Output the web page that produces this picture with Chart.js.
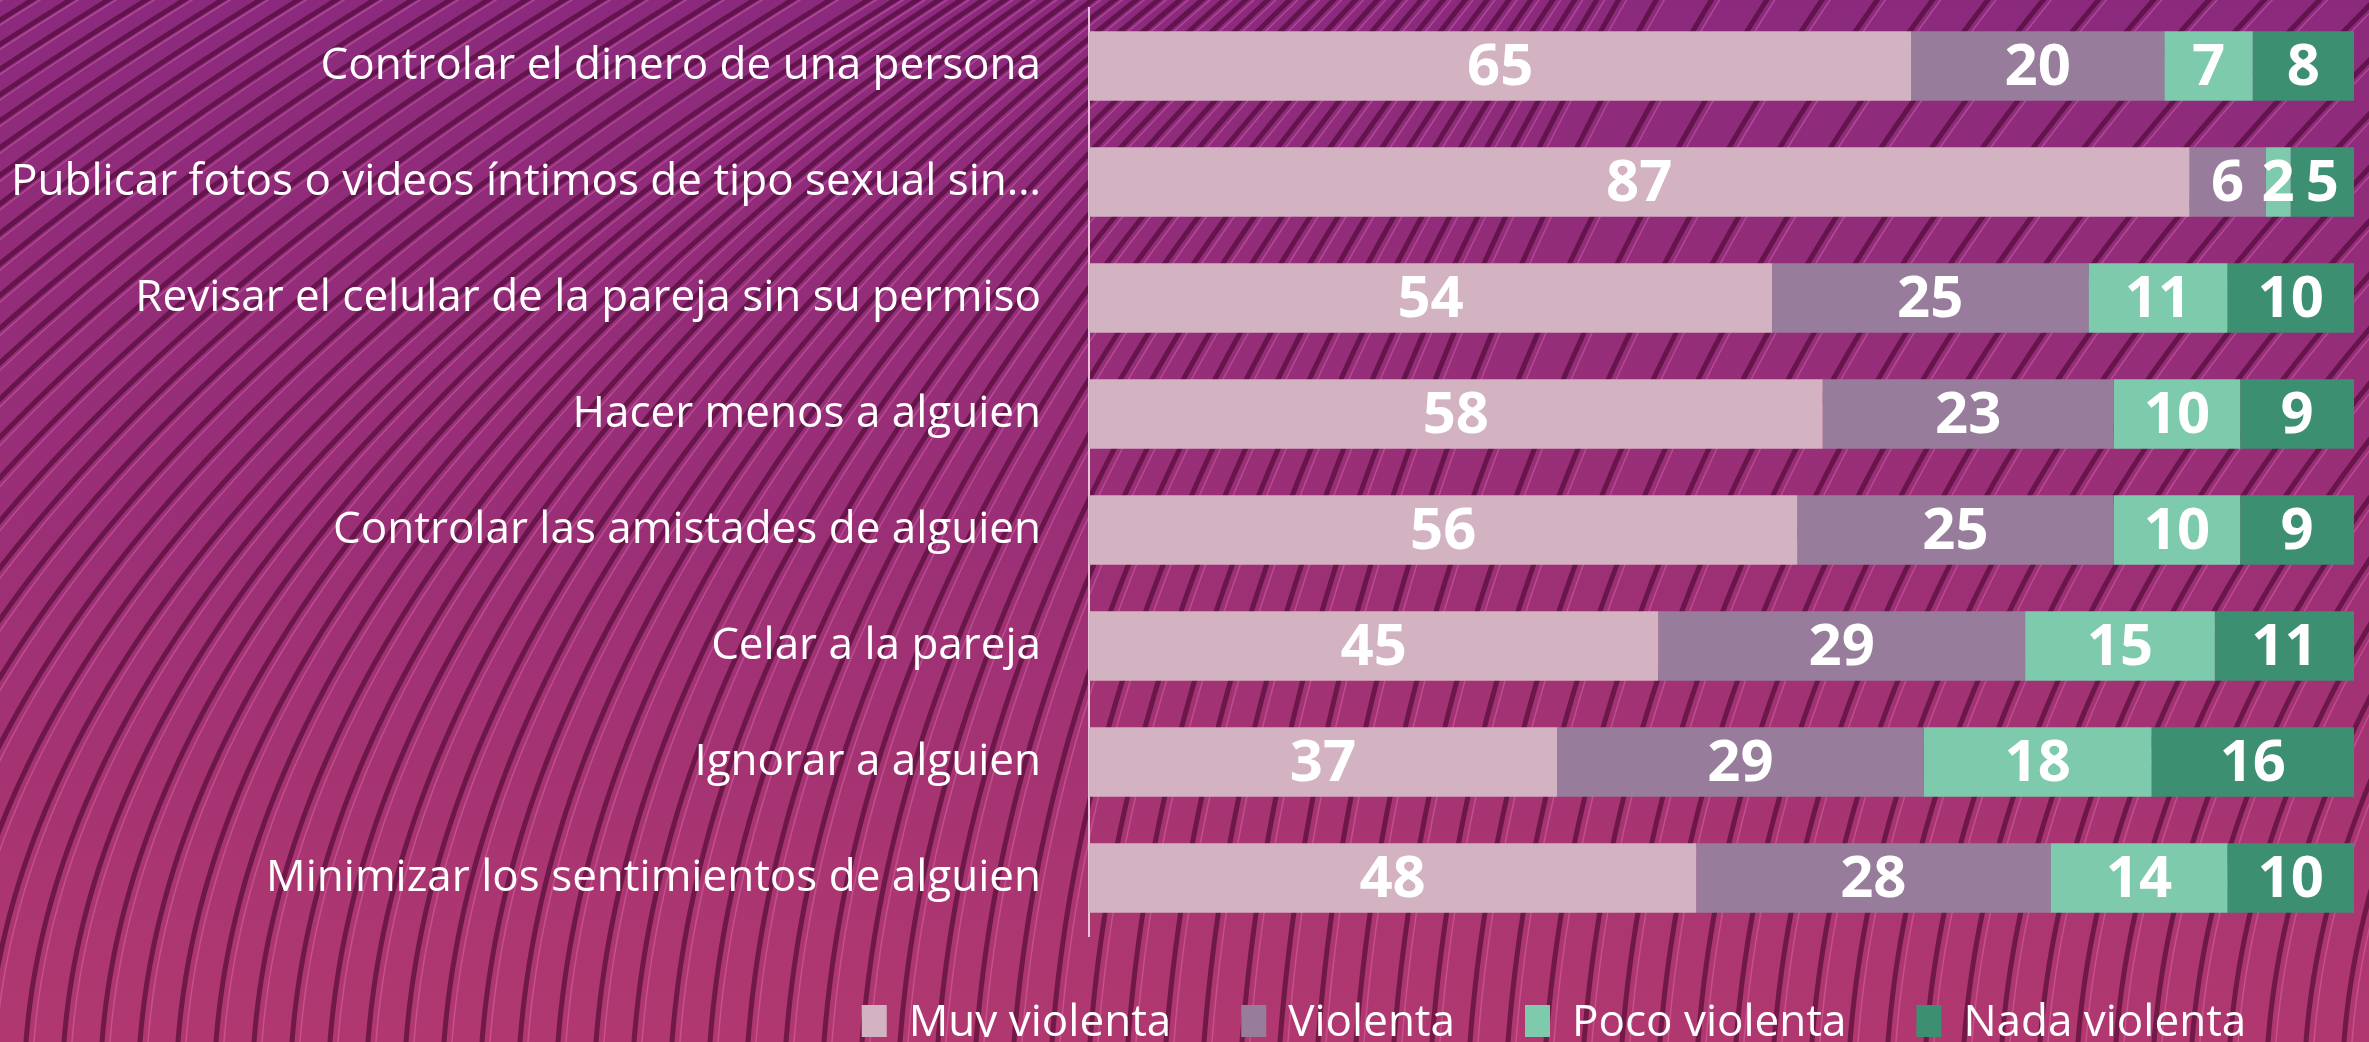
<!DOCTYPE html>
<html>
<head>
<meta charset="utf-8">
<script src="https://cdn.jsdelivr.net/npm/chart.js@4/dist/chart.umd.min.js"></script>
<style>
  html, body { margin: 0; padding: 0; background: #9a3076; }
  canvas { display: block; }
</style>
</head>
<body>
<canvas id="chart" width="2369" height="1042"></canvas>
<script>
const categories = [
  'Controlar el dinero de una persona',
  'Publicar fotos o videos íntimos de tipo sexual sin…',
  'Revisar el celular de la pareja sin su permiso',
  'Hacer menos a alguien',
  'Controlar las amistades de alguien',
  'Celar a la pareja',
  'Ignorar a alguien',
  'Minimizar los sentimientos de alguien'
];
const seriesNames = ['Muy violenta', 'Violenta', 'Poco violenta', 'Nada violenta'];
const muyViolenta = [65, 87, 54, 58, 56, 45, 37, 48];
const violenta = [20, 6, 25, 23, 25, 29, 29, 28];
const pocoViolenta = [7, 2, 11, 10, 10, 15, 18, 14];
const nadaViolenta = [8, 5, 10, 9, 9, 11, 16, 10];
const colors = ['#d3b3c2', '#977d9b', '#7ecaad', '#3d8f72'];

// wavy striped background, drawn behind everything
const backgroundPlugin = {
  id: 'background',
  beforeDraw(chart) {
    const { ctx, width, height } = chart;
    ctx.save();
    const grad = ctx.createLinearGradient(0, 0, 0, height);
    grad.addColorStop(0, '#8b2a7d');
    grad.addColorStop(0.5, '#9a2f76');
    grad.addColorStop(1, '#b1386f');
    ctx.fillStyle = grad;
    ctx.fillRect(0, 0, width, height);

    const curve = (s) => {
      // curvature depends on where the stripe starts
      let k;
      if (s < 0) k = 800;
      else if (s < 1300) k = 800 - (s / 1300) * 550;
      else k = 250 + Math.min(1, (s - 1300) / 1100) * 500;
      ctx.beginPath();
      for (let y = height + 20; y >= -20; y -= 12) {
        const u = (height - y) / height;
        const x = s + k * u * u + 80 * u;
        if (y === height + 20) ctx.moveTo(x, y); else ctx.lineTo(x, y);
      }
      ctx.stroke();
    };
    for (let s = -1000; s < 2500; s += 38) {
      ctx.strokeStyle = 'rgba(255, 140, 210, 0.3)';
      ctx.lineWidth = 1.5;
      ctx.save(); ctx.translate(8, 0); curve(s); ctx.restore();
      ctx.strokeStyle = 'rgba(70, 5, 45, 0.6)';
      ctx.lineWidth = 5;
      curve(s);
    }
    ctx.restore();
  }
};

// white numbers inside each bar segment
const valueLabels = {
  id: 'valueLabels',
  afterDatasetsDraw(chart) {
    const { ctx } = chart;
    ctx.save();
    ctx.fillStyle = '#ffffff';
    ctx.font = 'bold 58px "Open Sans", sans-serif';
    ctx.textAlign = 'center';
    ctx.textBaseline = 'middle';
    chart.data.datasets.forEach((ds, i) => {
      const meta = chart.getDatasetMeta(i);
      meta.data.forEach((bar, j) => {
        ctx.fillText(String(ds.data[j]), (bar.x + bar.base) / 2, bar.y + 2);
      });
    });
    ctx.restore();
  }
};

// legend sits centred between x=754 and the right edge of the bars, a bit higher
const legendShift = {
  id: 'legendShift',
  afterLayout(chart) {
    const lg = chart.legend;
    if (!lg) return;
    lg.left = 754;
    lg.right = chart.chartArea.right;
    lg.width = lg.right - lg.left;
    lg.top -= 5;
    lg.bottom -= 5;
  }
};

const ctx = document.getElementById('chart').getContext('2d');
const seriesData = [muyViolenta, violenta, pocoViolenta, nadaViolenta];

new Chart(ctx, {
  type: 'bar',
  data: {
    labels: categories,
    datasets: seriesNames.map((name, i) => ({
      label: name,
      data: seriesData[i],
      backgroundColor: colors[i],
      borderWidth: 0,
      categoryPercentage: 1,
      barPercentage: 0.6
    }))
  },
  options: {
    indexAxis: 'y',
    responsive: false,
    animation: false,
    layout: { padding: { top: 8, left: 0, right: 15, bottom: 0 } },
    scales: {
      x: { stacked: true, min: 0, max: 100, display: false },
      y: {
        stacked: true,
        grid: { display: false },
        border: { display: true, color: '#e8c6da', width: 2 },
        ticks: {
          color: '#ffffff',
          padding: 40,
          font: { family: '"Open Sans", sans-serif', size: 44 },
          autoSkip: false
        },
        afterFit(scale) {
          scale.width = 1089;
          scale.paddingTop = 0;
          scale.paddingBottom = 0;
        }
      }
    },
    plugins: {
      tooltip: { enabled: false },
      legend: {
        position: 'bottom',
        maxHeight: 106,
        labels: {
          color: '#ffffff',
          boxWidth: 25,
          boxHeight: 36,
          padding: 70,
          font: { family: '"Open Sans", sans-serif', size: 44 }
        }
      }
    }
  },
  plugins: [backgroundPlugin, valueLabels, legendShift]
});
</script>
</body>
</html>
